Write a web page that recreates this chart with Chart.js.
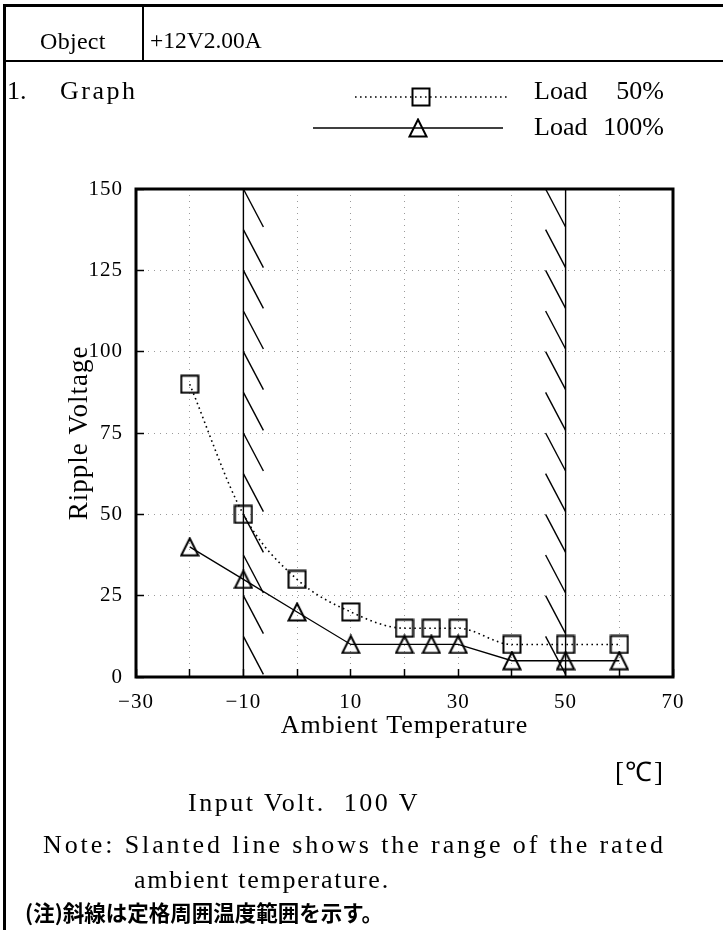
<!DOCTYPE html>
<html>
<head>
<meta charset="utf-8">
<title>Ripple Voltage vs Ambient Temperature</title>
<style>
  html, body { margin: 0; padding: 0; background: #fff; }
  body { width: 723px; height: 930px; position: relative; overflow: hidden;
         font-family: "Liberation Serif", "Times New Roman", serif; color: #000; }
  #chartBox { position: absolute; left: 0; top: 0; width: 723px; height: 930px; }
  .rule { position: absolute; background: #000; }
  .t { position: absolute; white-space: pre; line-height: 1; font-size: 26px; }
  .jp { font-family: "Noto Sans CJK JP", sans-serif; font-weight: 700; font-size: 21.5px; }
</style>
<script src="https://cdn.jsdelivr.net/npm/chart.js@4.4.1/dist/chart.umd.min.js"></script>
</head>
<body>
  <!-- sheet frame -->
  <div class="rule" style="left:3px;top:4px;width:720px;height:3px"></div>
  <div class="rule" style="left:3px;top:4px;width:3px;height:926px"></div>
  <div class="rule" style="left:3px;top:60px;width:720px;height:2px"></div>
  <div class="rule" style="left:142px;top:6px;width:2px;height:55px"></div>

  <div id="chartBox"><canvas id="chart"></canvas></div>

  <div class="t" style="left:40px;top:29px;font-size:24px;letter-spacing:0.3px">Object</div>
  <div class="t" style="left:150px;top:29px;font-size:23.5px">+12V2.00A</div>
  <div class="t" style="left:7px;top:78px">1.</div>
  <div class="t" style="left:60px;top:78px;letter-spacing:2.5px">Graph</div>

  <div class="t" style="left:615px;top:759px;font-size:27px;letter-spacing:1.5px">[℃]</div>
  <div class="t" style="left:188px;top:790px;letter-spacing:2.5px">Input Volt.  100 V</div>
  <div class="t" style="left:43px;top:832px;letter-spacing:2.9px">Note: Slanted line shows the range of the rated</div>
  <div class="t" style="left:134px;top:867px;letter-spacing:1.75px">ambient temperature.</div>
  <div class="t jp" style="left:25px;top:901px">(注)斜線は定格周囲温度範囲を示す。</div>

<script>
// Measured ripple voltage at each ambient temperature (°C)
const temperatures = [-20, -10, 0, 10, 20, 25, 30, 40, 50, 60];
const rippleLoad50 = [90, 50, 30, 20, 15, 15, 15, 10, 10, 10];
const rippleLoad100 = [40, 30, 20, 10, 10, 10, 10, 5, 5, 5];
const seriesNames = [['Load', '50%'], ['Load', '100%']];

// Axis ranges and tick spacing
const xRange = [-30, 70];
const xStep = 10;
const xLabelStep = 20;
const yRange = [0, 150];
const yStep = 25;

// Rated ambient temperature range, marked with slanted hatching
const ratedRange = [-10, 50];
const hatchStep = 12.5;

const SERIF = '"Liberation Serif", "Times New Roman", serif';

// Hollow marker images (square and triangle)
function makeMarker(kind) {
  const c = document.createElement('canvas');
  c.width = 20; c.height = 20;
  const g = c.getContext('2d');
  g.strokeStyle = '#000';
  g.lineWidth = 2;
  g.lineJoin = 'miter';
  if (kind === 'square') {
    g.strokeRect(1.5, 1.5, 17, 17);
  } else {
    g.beginPath();
    g.moveTo(10, 1.5);
    g.lineTo(18.5, 18.5);
    g.lineTo(1.5, 18.5);
    g.closePath();
    g.stroke();
  }
  return c;
}
const squareMark = makeMarker('square');
const triangleMark = makeMarker('triangle');

const toPoints = (ys) => temperatures.map((t, i) => ({x: t, y: ys[i]}));

const HATCH_W = 20;
const HATCH_H = 38;

const sheetPlugin = {
  id: 'sheet',
  beforeDraw(chart) {
    chart.ctx.letterSpacing = '1px';
  },
  beforeDatasetsDraw(chart) {
    const {ctx, chartArea: a, scales: {x, y}} = chart;
    ctx.save();
    ctx.strokeStyle = '#000';
    ctx.lineWidth = 1.4;
    ratedRange.forEach((t, i) => {
      const px = x.getPixelForValue(t);
      ctx.beginPath();
      ctx.moveTo(px, a.top);
      ctx.lineTo(px, a.bottom);
      ctx.stroke();
      for (let v = yRange[1]; v > yRange[0]; v -= hatchStep) {
        const py = y.getPixelForValue(v);
        const x0 = i === 0 ? px : px - HATCH_W;
        ctx.beginPath();
        ctx.moveTo(x0, py);
        ctx.lineTo(x0 + HATCH_W, Math.min(py + HATCH_H, a.bottom));
        ctx.stroke();
      }
    });
    ctx.restore();
  },
  afterDatasetsDraw(chart) {
    const {ctx, chartArea: a} = chart;
    ctx.save();
    ctx.strokeStyle = '#000';
    ctx.lineWidth = 3;
    ctx.strokeRect(a.left, a.top, a.right - a.left, a.bottom - a.top);
    ctx.restore();
  },
  afterDraw(chart) {
    // legend: line sample with its marker, then the series name
    const {ctx} = chart;
    const rows = [
      {y: 97, ty: 92, x1: 355, x2: 510, mx: 421},
      {y: 128, ty: 128, x1: 313, x2: 503, mx: 418}
    ];
    ctx.save();
    chart.data.datasets.forEach((ds, i) => {
      const r = rows[i];
      ctx.strokeStyle = ds.borderColor;
      ctx.lineWidth = ds.borderWidth;
      ctx.setLineDash(ds.borderDash || []);
      ctx.beginPath();
      ctx.moveTo(r.x1, r.y);
      ctx.lineTo(r.x2, r.y);
      ctx.stroke();
      ctx.setLineDash([]);
      const img = ds.pointStyle;
      ctx.drawImage(img, r.mx - img.width / 2, r.y - img.height / 2);
      ctx.fillStyle = '#000';
      ctx.font = '26px ' + SERIF;
      ctx.letterSpacing = '0px';
      ctx.textBaseline = 'middle';
      ctx.textAlign = 'left';
      ctx.fillText(seriesNames[i][0], 534, r.ty);
      ctx.textAlign = 'right';
      ctx.fillText(seriesNames[i][1], 664, r.ty);
    });
    ctx.restore();
  }
};

new Chart(document.getElementById('chart'), {
  type: 'line',
  data: {
    datasets: [
      {
        label: seriesNames[0].join(' '),
        data: toPoints(rippleLoad50),
        borderColor: '#000',
        borderWidth: 1.6,
        borderDash: [1.6, 3.4],
        cubicInterpolationMode: 'monotone',
        pointStyle: squareMark,
        pointRadius: 10,
        fill: false
      },
      {
        label: seriesNames[1].join(' '),
        data: toPoints(rippleLoad100),
        borderColor: '#000',
        borderWidth: 1.3,
        tension: 0,
        pointStyle: triangleMark,
        pointRadius: 10,
        fill: false
      }
    ]
  },
  plugins: [sheetPlugin],
  options: {
    responsive: true,
    maintainAspectRatio: false,
    animation: false,
    events: [],
    layout: { padding: { left: 0, top: 189, right: 50, bottom: 183 } },
    plugins: {
      legend: { display: false },
      tooltip: { enabled: false }
    },
    scales: {
      x: {
        type: 'linear',
        min: xRange[0],
        max: xRange[1],
        afterFit(scale) { scale.height = 70; },
        ticks: {
          stepSize: xStep,
          autoSkip: false,
          maxRotation: 0,
          padding: 21,
          color: '#000',
          font: { family: SERIF, size: 21 },
          callback: (v) => ((v - xRange[0]) % xLabelStep === 0 ? String(v).replace('-', '\u2212') : '')
        },
        grid: {
          color: '#9a9a9a',
          lineWidth: 1,
          drawTicks: true,
          tickLength: -8,
          tickColor: '#000',
          tickWidth: 1.5
        },
        border: { display: false, dash: [1, 5] },
        title: {
          display: true,
          text: 'Ambient Temperature',
          color: '#000',
          font: { family: SERIF, size: 26 },
          padding: { top: 0, bottom: 5 }
        }
      },
      y: {
        type: 'linear',
        min: yRange[0],
        max: yRange[1],
        afterFit(scale) { scale.width = 136; },
        ticks: {
          stepSize: yStep,
          padding: 21,
          color: '#000',
          font: { family: SERIF, size: 21 }
        },
        grid: {
          color: '#9a9a9a',
          lineWidth: 1,
          drawTicks: true,
          tickLength: -8,
          tickColor: '#000',
          tickWidth: 1.5
        },
        border: { display: false, dash: [1, 5] },
        title: {
          display: true,
          text: 'Ripple Voltage',
          color: '#000',
          font: { family: SERIF, size: 27 },
          padding: { top: 64, bottom: 0 }
        }
      }
    }
  }
});
</script>
</body>
</html>
